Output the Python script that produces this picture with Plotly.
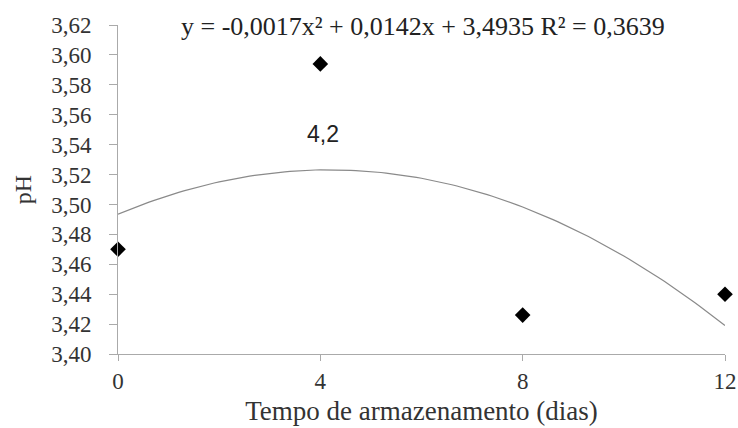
import plotly.graph_objects as go

days = [0, 4, 8, 12]
ph = [3.470, 3.594, 3.426, 3.440]
coef = [-0.0017, 0.0142, 3.4935]  # a, b, c of trendline y = a x^2 + b x + c
eq_text = "y = -0,0017x² + 0,0142x + 3,4935 R² = 0,3639"
y_ticks = [3.40, 3.42, 3.44, 3.46, 3.48, 3.50, 3.52, 3.54, 3.56, 3.58, 3.60, 3.62]
x_ticks = [0, 4, 8, 12]

xs = [i * 0.1 for i in range(0, 121)]
ys = [coef[0] * x * x + coef[1] * x + coef[2] for x in xs]

fig = go.Figure()
fig.add_trace(go.Scatter(x=xs, y=ys, mode="lines",
                         line=dict(color="#8a8a8a", width=1.2), hoverinfo="skip"))
fig.add_trace(go.Scatter(x=days, y=ph, mode="markers", cliponaxis=False,
                         marker=dict(symbol="diamond", size=12, color="black")))

serif = "Liberation Serif"
fig.update_layout(
    width=738, height=428,
    margin=dict(l=118, r=13, t=25, b=74),
    plot_bgcolor="white", paper_bgcolor="white",
    showlegend=False,
    separators=",.",
    font=dict(family=serif, size=22, color="#333"),
    xaxis=dict(range=[0, 12], tickvals=x_ticks, showline=True, linecolor="#aaa",
               linewidth=1, ticks="outside", tickcolor="#aaa", ticklen=6,
               tickfont=dict(family=serif, size=23, color="#333"),
               showgrid=False, zeroline=False, automargin=False,
               title=dict(text="Tempo de armazenamento (dias)",
                          font=dict(family=serif, size=27, color="#333"), standoff=8)),
    yaxis=dict(range=[3.40, 3.62], tickvals=y_ticks, tickformat=".2f", showline=True,
               linecolor="#aaa", linewidth=1, ticks="outside", tickcolor="#aaa", ticklen=8,
               ticklabelstandoff=13,
               tickfont=dict(family=serif, size=23, color="#333"),
               showgrid=False, zeroline=False, automargin=False,
               title=dict(text="pH", font=dict(family=serif, size=24, color="#333"), standoff=12)),
    annotations=[
        dict(x=0.5025, y=1.0, xref="paper", yref="paper", text=eq_text, showarrow=False,
             yanchor="middle", yshift=-1,
             font=dict(family=serif, size=26, color="#222")),
        dict(x=4.2, y=3.547, text="4,2", showarrow=False, xshift=-7,
             font=dict(family="Liberation Sans", size=23, color="#222")),
    ],
)
fig.write_html("out.html", config={"displayModeBar": False},
               post_script="document.body.style.margin='0';document.body.style.overflow='hidden';")
